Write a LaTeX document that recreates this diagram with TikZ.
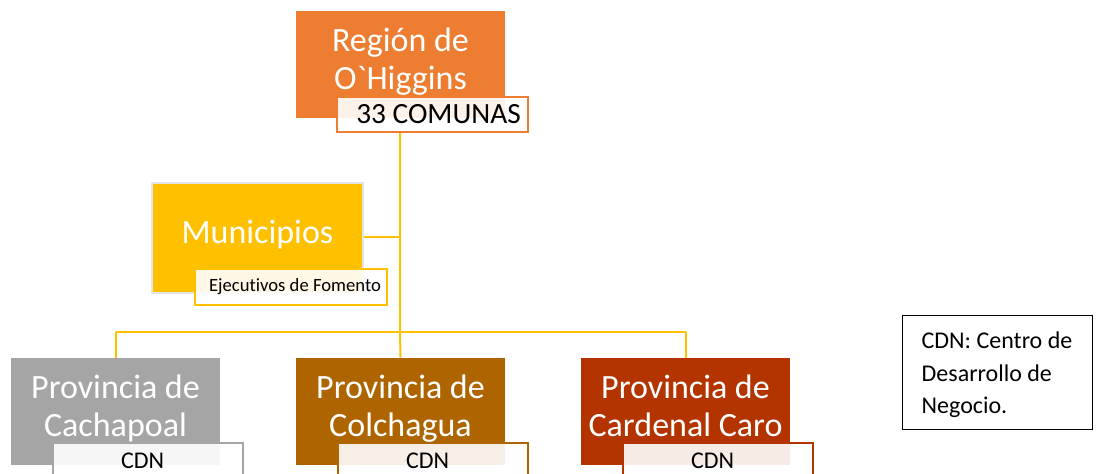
\documentclass[tikz,border=0pt]{standalone}
\usepackage{fontspec}
\setmainfont{Carlito}[Ligatures=NoCommon]
\newfontfamily\rawfont{Carlito}
\usepackage{xcolor}
\usetikzlibrary{positioning}

\definecolor{regorange}{HTML}{ED7D31}
\definecolor{muniyellow}{HTML}{FFC000}
\definecolor{cachgray}{HTML}{A5A5A5}
\definecolor{colchbrown}{HTML}{AE6500}
\definecolor{cardred}{HTML}{B43400}
\definecolor{linkyellow}{HTML}{FFC000}

\begin{document}
\begin{tikzpicture}[x=0.75pt, y=-0.75pt,
  mainbox/.style={rectangle, draw=none, minimum width=156.75pt,
    minimum height=80.25pt, inner sep=0pt},
  subbox/.style={rectangle, fill=white, fill opacity=0.9, text opacity=1,
    line width=1.5pt, minimum width=142.5pt, minimum height=26.25pt,
    inner sep=0pt, font=\fontsize{18}{21}\selectfont},
  bigtxt/.style={align=center, text=white, inner sep=0pt,
    font=\fontsize{25.5}{28.75}\selectfont},
  link/.style={draw=linkyellow, line width=1.5pt}
]
\useasboundingbox (0,0) rectangle (1103,474);

%% Region
\node[mainbox, fill=regorange] (reg) at (400.5,65) {};
\node[bigtxt] (regtxt) at (400.5,63) {\strut Región de\\O{\rawfont`}Higgins\strut};

%% Municipios
\node[mainbox, fill=muniyellow, draw=gray!20, line width=1.5pt,
  minimum width=158.25pt, minimum height=82.5pt] (muni) at (257.5,238) {};
\node[bigtxt] (munitxt) at (257.5,236) {\strut Municipios};

%% Provincias
\node[mainbox, fill=cachgray]   (cach)  at (115.5,411.5) {};
\node[mainbox, fill=colchbrown] (colch) at (400.5,411.5) {};
\node[mainbox, fill=cardred]    (card)  at (685.5,411.5) {};
\node[bigtxt] (cachtxt)  at (115.5,409.5) {\strut Provincia de\\Cachapoal\strut};
\node[bigtxt] (colchtxt) at (400.5,409.5) {\strut Provincia de\\Colchagua\strut};
\node[bigtxt] (cardtxt)  at (685.5,409.5) {\strut Provincia de\\Cardenal Caro\strut};

%% connectors
\coordinate (jmuni) at (400,237);
\coordinate (jbar)  at (400,332);
\coordinate (lbar)  at (115.5,332);
\coordinate (rbar)  at (685.5,332);
\draw[link] (400,132) -- (jbar) -- (colch.north);
\draw[link] (muni.east |- jmuni) -- (jmuni);
\draw[link] (lbar) -- (rbar);
\draw[link] (lbar) -- (cach.north);
\draw[link] (rbar) -- (card.north);

%% sub boxes
\node[subbox, draw=regorange, minimum width=143.25pt,
  font=\fontsize{22}{25}\selectfont] (comunas) at (432.5,114.5) {\hspace{9pt}33 COMUNAS};
\node[subbox, draw=muniyellow, minimum width=144pt, minimum height=27pt,
  font=\fontsize{14}{16}\selectfont] (ejec) at (291,287) {\hspace{6pt}Ejecutivos de Fomento};
\node[subbox, draw=cachgray]   (cdna) at (148,460.5) {\hspace{-8pt}CDN};
\node[subbox, draw=colchbrown] (cdnb) at (433,460.5) {\hspace{-8pt}CDN};
\node[subbox, draw=cardred]    (cdnc) at (718,460.5) {\hspace{-8pt}CDN};

%% leyenda
\node[draw=black, line width=0.75pt, align=left, inner xsep=13.5pt,
  minimum width=142.5pt, minimum height=85.5pt,
  font=\fontsize{18}{24.4}\selectfont] (legend) at (997,372)
  {\strut CDN: Centro de\\Desarrollo de\\Negocio.};

\end{tikzpicture}
\end{document}
